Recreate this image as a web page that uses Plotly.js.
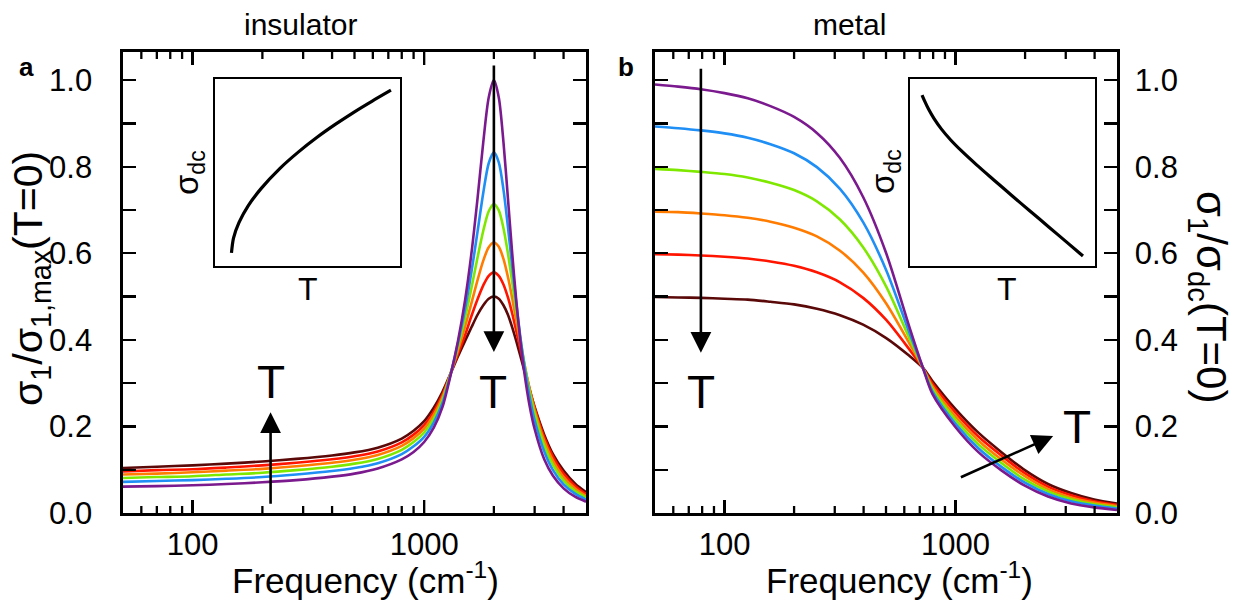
<!DOCTYPE html>
<html>
<head>
<meta charset="utf-8">
<script src="https://cdn.plot.ly/plotly-3.0.1.min.js"></script>
<style>html,body{margin:0;padding:0;background:#fff;}#chart{width:1236px;height:602px;}</style>
</head>
<body>
<div id="chart"></div>
<script>
// ---------- data: insulator panel (sigma1 / sigma1,max(T=0)) ----------
const freqIns = [50,70,100,140,200,280,400,500,630,800,900,1000,1100,1200,1300,1400,1500,1600,1700,1800,1900,2000,2100,2200,2300,2400,2500,2600,2700,2850,3000,3300,3600,4000,4500,5000];
const insPurple = [0.061,0.062,0.064,0.067,0.071,0.076,0.084,0.091,0.103,0.124,0.141,0.164,0.197,0.245,0.318,0.398,0.490,0.600,0.727,0.857,0.960,1.000,0.960,0.857,0.727,0.600,0.490,0.400,0.329,0.249,0.194,0.124,0.086,0.057,0.037,0.026];
const insBlue   = [0.072,0.074,0.076,0.079,0.083,0.089,0.097,0.104,0.115,0.136,0.154,0.176,0.209,0.254,0.320,0.393,0.470,0.557,0.650,0.740,0.808,0.833,0.810,0.747,0.661,0.570,0.484,0.408,0.345,0.270,0.214,0.142,0.099,0.066,0.044,0.031];
const insGreen  = [0.081,0.083,0.085,0.089,0.093,0.099,0.107,0.114,0.125,0.146,0.164,0.186,0.218,0.261,0.322,0.385,0.450,0.520,0.590,0.652,0.697,0.714,0.699,0.658,0.600,0.533,0.466,0.405,0.350,0.282,0.229,0.156,0.111,0.075,0.050,0.036];
const insOrange = [0.089,0.091,0.094,0.098,0.102,0.108,0.116,0.123,0.134,0.155,0.173,0.195,0.227,0.268,0.322,0.376,0.430,0.485,0.538,0.583,0.614,0.625,0.615,0.587,0.545,0.496,0.444,0.394,0.348,0.287,0.238,0.167,0.121,0.083,0.056,0.040];
const insRed    = [0.096,0.099,0.101,0.105,0.110,0.116,0.124,0.131,0.142,0.163,0.181,0.203,0.234,0.274,0.322,0.368,0.410,0.455,0.494,0.526,0.548,0.556,0.548,0.528,0.498,0.461,0.420,0.380,0.341,0.288,0.243,0.175,0.130,0.091,0.062,0.044];
const insDark   = [0.104,0.107,0.110,0.114,0.119,0.125,0.133,0.140,0.151,0.172,0.190,0.212,0.243,0.280,0.322,0.362,0.397,0.429,0.458,0.480,0.495,0.500,0.495,0.480,0.458,0.429,0.397,0.364,0.331,0.285,0.245,0.181,0.136,0.098,0.067,0.048];

// ---------- data: metal panel (sigma1 / sigma_dc(T=0)) ----------
const freqMet = [50,63,79,100,126,158,200,251,316,398,501,631,723,794,1000,1259,1585,1995,2512,3162,3981,5000];
const metPurple = [0.990,0.985,0.979,0.970,0.958,0.940,0.915,0.878,0.820,0.730,0.600,0.430,0.335,0.275,0.198,0.140,0.098,0.063,0.038,0.022,0.013,0.007];
const metBlue   = [0.893,0.889,0.884,0.877,0.867,0.852,0.831,0.799,0.749,0.672,0.561,0.417,0.335,0.281,0.206,0.149,0.106,0.070,0.044,0.027,0.017,0.010];
const metGreen  = [0.795,0.792,0.788,0.783,0.775,0.763,0.746,0.720,0.678,0.614,0.523,0.404,0.335,0.287,0.215,0.158,0.115,0.077,0.050,0.032,0.020,0.013];
const metOrange = [0.696,0.695,0.692,0.688,0.682,0.673,0.659,0.639,0.606,0.556,0.484,0.392,0.335,0.293,0.223,0.167,0.123,0.085,0.055,0.036,0.024,0.016];
const metRed    = [0.598,0.597,0.595,0.592,0.588,0.581,0.571,0.556,0.533,0.497,0.446,0.378,0.335,0.299,0.232,0.176,0.132,0.092,0.061,0.041,0.027,0.019];
const metDark   = [0.499,0.498,0.497,0.495,0.493,0.488,0.482,0.472,0.457,0.435,0.404,0.363,0.335,0.305,0.240,0.185,0.140,0.099,0.067,0.046,0.031,0.022];

// ---------- data: insets (sigma_dc vs T, arbitrary units) ----------
const insetInsT   = [0.089,0.100,0.130,0.180,0.250,0.350,0.450,0.550,0.650,0.750,0.850,0.951];
const insetInsSig = [0.070,0.149,0.233,0.323,0.415,0.521,0.609,0.687,0.757,0.822,0.882,0.940];
const insetMetT   = [0.065,0.080,0.100,0.130,0.170,0.220,0.280,0.360,0.450,0.550,0.650,0.750,0.850,0.935];
const insetMetSig = [0.914,0.880,0.839,0.788,0.732,0.674,0.614,0.541,0.463,0.377,0.293,0.209,0.125,0.053];

// ---------- tick values ----------
const majorX = [100,1000];
const majorXText = ['100','1000'];
const minorX = [60,70,80,90,200,300,400,500,600,700,800,900,2000,3000,4000];
const majorY = [0,0.2,0.4,0.6,0.8,1.0];
const majorYText = ['0.0','0.2','0.4','0.6','0.8','1.0'];
const minorY = [0.1,0.3,0.5,0.7,0.9];

const seriesColors = ['#5a0808','#ff1400','#ff7c00','#7fe800','#1f8ef5','#7b1a8e'];
const insSeries = [insDark,insRed,insOrange,insGreen,insBlue,insPurple];
const metSeries = [metDark,metRed,metOrange,metGreen,metBlue,metPurple];

const W = 1236, H = 602;
const px = v => v / W;
const py = v => (H - v) / H;
const YMAX = 1.065;
const PLOT_H = 461; // plot height in pixels (513-52)
const pxToY = p => p * YMAX / PLOT_H;

const traces = [];
insSeries.forEach((s,i)=>traces.push({x:freqIns,y:s,type:'scatter',mode:'lines',line:{color:seriesColors[i],width:2.6,shape:'spline',smoothing:0.8},xaxis:'x',yaxis:'y',hoverinfo:'skip'}));
metSeries.forEach((s,i)=>traces.push({x:freqMet,y:s,type:'scatter',mode:'lines',line:{color:seriesColors[i],width:2.6,shape:'spline',smoothing:0.8},xaxis:'x2',yaxis:'y2',hoverinfo:'skip'}));
traces.push({x:insetInsT,y:insetInsSig,type:'scatter',mode:'lines',line:{color:'#000',width:3.2,shape:'spline',smoothing:0.8},xaxis:'x3',yaxis:'y3',hoverinfo:'skip'});
traces.push({x:insetMetT,y:insetMetSig,type:'scatter',mode:'lines',line:{color:'#000',width:3.2,shape:'spline',smoothing:0.8},xaxis:'x4',yaxis:'y4',hoverinfo:'skip'});

// x tick marks (bottom and top frame) as line segments built from the tick-value arrays
function tickTrace(vals, lenPx, xa, ya){
  const xs = [], ys = [], L = pxToY(lenPx);
  vals.forEach(v=>{
    xs.push(v, v, null, v, v, null);
    ys.push(0, L, null, YMAX, YMAX - L, null);
  });
  return {x:xs, y:ys, type:'scatter', mode:'lines', line:{color:'#000', width:2.3}, xaxis:xa, yaxis:ya, hoverinfo:'skip', cliponaxis:false, connectgaps:false};
}
traces.push(tickTrace(minorX, 7, 'x', 'y'));
traces.push(tickTrace(majorX, 13, 'x', 'y'));
traces.push(tickTrace(minorX, 7, 'x2', 'y2'));
traces.push(tickTrace(majorX, 13, 'x2', 'y2'));

const FONT = 'Liberation Sans, Arial, sans-serif';
const TICKFONT = {family:FONT,size:31,color:'#000'};
function xAx(domain, anchor){
  return {type:'log', domain:domain, anchor:anchor, range:[Math.log10(50),Math.log10(5000)],
    showline:true, linecolor:'#000', linewidth:2.6, mirror:'allticks', showgrid:false, zeroline:false,
    ticks:'inside', ticklen:13, tickwidth:2.4, tickcolor:'#000',
    tickmode:'array', tickvals:majorX, ticktext:majorXText, ticklabelstandoff:2, tickfont:TICKFONT};
}
function yAx(domain, anchor, side, standoff){
  return {domain:domain, anchor:anchor, side:side, range:[0,YMAX],
    showline:true, linecolor:'#000', linewidth:2.6, mirror:'allticks', showgrid:false, zeroline:false,
    ticks:'inside', ticklen:13, tickwidth:2.4, tickcolor:'#000',
    tickmode:'array', tickvals:majorY, ticktext:majorYText, ticklabelstandoff:standoff,
    tickfont:TICKFONT,
    minor:{ticks:'inside', ticklen:13, tickwidth:2.4, tickcolor:'#000', tickvals:minorY, showgrid:false}};
}
function insetAx(domain, anchor){
  return {domain:domain, anchor:anchor, range:[0,1], showline:true, linecolor:'#000', linewidth:2.2, mirror:true,
    showgrid:false, zeroline:false, ticks:'', showticklabels:false};
}

const yDom = [py(513), py(52)];
const layout = {
  width:W, height:H, margin:{l:0,r:0,t:0,b:0}, paper_bgcolor:'#fff', plot_bgcolor:'rgba(0,0,0,0)',
  showlegend:false, font:{family:FONT,color:'#000'},
  xaxis: xAx([px(123),px(586)],'y'),
  yaxis: yAx(yDom,'x','left',22),
  xaxis2: xAx([px(655),px(1117)],'y2'),
  yaxis2: yAx(yDom,'x2','right',9),
  xaxis3: insetAx([px(215),px(400)],'y3'),
  yaxis3: insetAx([py(266),py(79)],'x3'),
  xaxis4: insetAx([px(910),px(1095)],'y4'),
  yaxis4: insetAx([py(266),py(79)],'x4'),
  annotations: []
};

const A = layout.annotations;
function txt(x,y,t,size,opts){A.push(Object.assign({xref:'paper',yref:'paper',x:px(x),y:py(y),text:t,showarrow:false,xanchor:'center',yanchor:'middle',font:{family:FONT,size:size,color:'#000'}},opts||{}));}
txt(300,25,'insulator',30);
txt(849,25,'metal',30);
txt(26,67,'<b>a</b>',26);
txt(626,67,'<b>b</b>',26);
txt(31,279,'σ<sub>1</sub>/σ<sub>1,max</sub>(T=0)',41,{textangle:-90});
txt(1209,297,'σ<sub>1</sub>/σ<sub>dc</sub>(T=0)',42,{textangle:90});
txt(365,578,'Frequency (cm<sup>-1</sup>)',35);
txt(899,578,'Frequency (cm<sup>-1</sup>)',35);
txt(189,172,'σ<sub>dc</sub>',33,{textangle:-90});
txt(308,289,'T',32);
txt(885,172,'σ<sub>dc</sub>',33,{textangle:-90});
txt(1007,289,'T',32);

// arrows in data coordinates (annotations on log axes take log10 positions)
function arrow(xr,yr,x0,y0,x1,y1){
  A.push({xref:xr,yref:yr,axref:xr,ayref:yr,x:Math.log10(x1),y:y1,ax:Math.log10(x0),ay:y0,text:'',showarrow:true,
    arrowhead:2,arrowsize:1.6,arrowwidth:2.6,arrowcolor:'#000',standoff:0,startstandoff:0});
}
function dataTxt(xr,yr,x,y,t,size){A.push({xref:xr,yref:yr,x:Math.log10(x),y:y,text:t,showarrow:false,xanchor:'center',yanchor:'middle',font:{family:FONT,size:size,color:'#000'}});}
arrow('x','y',2000,1.037,2000,0.372);
dataTxt('x','y',1980,0.279,'T',46);
arrow('x','y',217,0.018,217,0.233);
dataTxt('x','y',217,0.303,'T',46);
arrow('x2','y2',79,1.03,79,0.37);
dataTxt('x2','y2',79,0.279,'T',46);
arrow('x2','y2',1039,0.081,2646,0.178);
dataTxt('x2','y2',3357,0.199,'T',46);

Plotly.newPlot('chart', traces, layout, {staticPlot:true, displayModeBar:false});
</script>
</body>
</html>
